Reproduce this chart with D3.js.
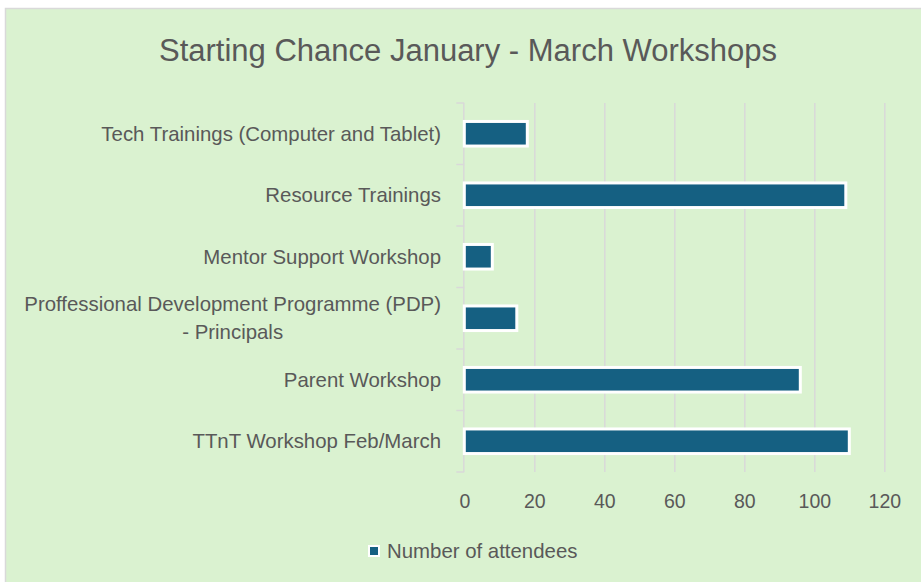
<!DOCTYPE html>
<html>
<head>
<meta charset="utf-8">
<script src="https://cdn.jsdelivr.net/npm/d3@7"></script>
<style>
  html, body { margin: 0; padding: 0; background: #ffffff; }
  svg { display: block; }
</style>
</head>
<body>
<div id="chart"></div>
<script>
// --- data ---
const categories = [
    'Tech Trainings (Computer and Tablet)',
    'Resource Trainings',
    'Mentor Support Workshop',
    'Proffessional Development Programme (PDP)|- Principals',
    'Parent Workshop',
    'TTnT Workshop Feb/March'
];
const attendees = [18, 109, 8, 15, 96, 110];
const xTicks = [0, 20, 40, 60, 80, 100, 120];
const seriesName = 'Number of attendees';
const chartTitle = 'Starting Chance January - March Workshops';

const W = 921, H = 582;
const FONT = "'Liberation Sans', Arial, sans-serif";
const BG = '#daf2d0', BAR = '#156082', TXT = '#595959', GRID = '#d9d9d9';

const svg = d3.select('#chart').append('svg').attr('width', W).attr('height', H);

// chart area
svg.append('rect')
    .attr('x', 5.5).attr('y', 8.5).attr('width', W).attr('height', H)
    .attr('fill', BG).attr('stroke', GRID).attr('stroke-width', 1.5);

svg.append('text')
    .attr('x', 468).attr('y', 50).attr('dy', '0.35em')
    .attr('text-anchor', 'middle')
    .attr('font-family', FONT).attr('font-size', 31).attr('fill', TXT)
    .text(chartTitle);

const plot = { left: 464.3, right: 884.3, top: 103, bottom: 472 };

const x = d3.scaleLinear().domain([0, 120]).range([plot.left, plot.right]);
const y = d3.scaleBand().domain(categories).range([plot.top, plot.bottom])
    .paddingInner(0.6).paddingOuter(0.3);

// gridlines + tick labels
const xAxis = svg.append('g')
    .attr('transform', `translate(0,${plot.bottom})`)
    .call(d3.axisBottom(x).tickValues(xTicks).tickSize(-(plot.bottom - plot.top)).tickPadding(22));
xAxis.select('.domain').remove();
xAxis.selectAll('.tick line').attr('stroke', GRID).attr('stroke-width', 1.5)
    .filter(d => d === 0).remove();
xAxis.selectAll('.tick text')
    .attr('font-family', FONT).attr('font-size', 19.5).attr('fill', TXT);

// category axis line with ticks at band boundaries
const step = y.step();
const yAxis = svg.append('g');
yAxis.append('line')
    .attr('x1', plot.left - 0.5).attr('x2', plot.left - 0.5)
    .attr('y1', plot.top).attr('y2', plot.bottom)
    .attr('stroke', GRID).attr('stroke-width', 1.5);
d3.range(categories.length + 1).forEach(i => {
    const yy = plot.top + i * step;
    yAxis.append('line')
        .attr('x1', plot.left - 8).attr('x2', plot.left)
        .attr('y1', yy).attr('y2', yy)
        .attr('stroke', GRID).attr('stroke-width', 1.5);
});

// category labels (wrapped labels are centred on their longest line)
const labelRight = 441;
categories.forEach(c => {
    const lines = c.split('|');
    const cy = y(c) + y.bandwidth() / 2;
    const g = svg.append('g');
    const texts = lines.map((ln, i) => g.append('text')
        .attr('y', cy + (i - (lines.length - 1) / 2) * 28)
        .attr('dy', '0.35em')
        .attr('font-family', FONT).attr('font-size', 20.4).attr('fill', TXT)
        .text(ln));
    if (lines.length === 1) {
        texts[0].attr('x', labelRight).attr('text-anchor', 'end');
    } else {
        const maxW = d3.max(texts, t => t.node().getComputedTextLength());
        texts.forEach(t => t.attr('x', labelRight - maxW / 2).attr('text-anchor', 'middle'));
    }
});

// bars
svg.selectAll('.bar')
    .data(categories.map((c, i) => ({ c, v: attendees[i] })))
    .join('rect')
    .attr('class', 'bar')
    .attr('x', x(0))
    .attr('y', d => y(d.c))
    .attr('width', d => x(d.v) - x(0))
    .attr('height', y.bandwidth())
    .attr('fill', BAR)
    .attr('stroke', '#ffffff').attr('stroke-width', 3);

// legend
const legend = svg.append('g').attr('transform', 'translate(369,551)');
legend.append('rect')
    .attr('x', 0).attr('y', -5).attr('width', 10).attr('height', 10)
    .attr('fill', BAR).attr('stroke', '#ffffff').attr('stroke-width', 2);
legend.append('text')
    .attr('x', 18).attr('dy', '0.35em')
    .attr('font-family', FONT).attr('font-size', 20.4).attr('fill', TXT)
    .text(seriesName);
</script>
</body>
</html>
